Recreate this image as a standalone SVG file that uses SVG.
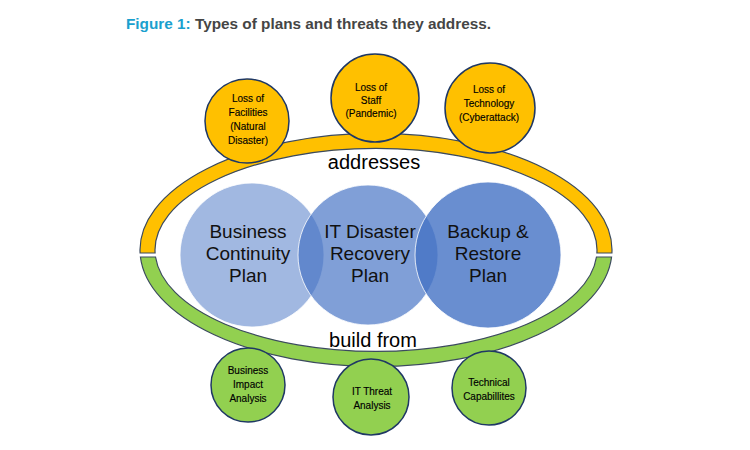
<svg xmlns="http://www.w3.org/2000/svg" width="750" height="450" viewBox="0 0 750 450">
<style>
  .title { font-family: "Liberation Sans", Arial, sans-serif; font-weight: bold; font-size: 15.5px; }
  .band { stroke: #3B4A5E; stroke-width: 1.2; }
  .orange { fill: #FFC000; }
  .green { fill: #92D050; }
  .node { stroke: #1F3864; stroke-width: 1.5; }
  .plan { fill: #4472C4; stroke: #FFFFFF; stroke-width: 1; stroke-opacity: 0.8; }
  .small { font-family: "Liberation Sans", Arial, sans-serif; font-size: 10px; fill: #000; text-anchor: middle; stroke: #000; stroke-width: 0.15; }
  .big { font-family: "Liberation Sans", Arial, sans-serif; font-size: 19px; fill: #111; text-anchor: middle; }
  .label { font-family: "Liberation Sans", Arial, sans-serif; font-size: 20px; fill: #000; text-anchor: middle; }
</style>
<rect width="750" height="450" fill="#FFFFFF"/>
<text class="title" x="126" y="29" textLength="365" lengthAdjust="spacingAndGlyphs"><tspan fill="#1AA0CE">Figure 1:</tspan><tspan fill="#454545"> Types of plans and threats they address.</tspan></text>

<g id="connectors">
  <path class="band orange" d="M140.08,253 A236,116.5 0 1 1 611.92,253 L596.9,253 A221,101.5 0 1 0 155.1,253 Z"/>
  <path class="band green" d="M140.43,257 A236,116.5 0 0 0 611.57,257 L596.47,257 A221,101.5 0 0 1 155.53,257 Z"/>
  <text class="label" x="374" y="169">addresses</text>
  <text class="label" x="373" y="347" font-size="21">build from</text>
</g>

<g id="bcp">
  <circle class="plan" cx="252" cy="255" r="72" fill-opacity="0.5"/>
</g>
<g id="itdrp">
  <circle class="plan" cx="368" cy="255" r="70" fill-opacity="0.68"/>
</g>
<g id="backup">
  <circle class="plan" cx="488" cy="255" r="73" fill-opacity="0.8"/>
</g>
<g id="plan-labels">
  <text class="big" x="248" y="238">Business</text>
  <text class="big" x="248" y="260">Continuity</text>
  <text class="big" x="248" y="282">Plan</text>
  <text class="big" x="370" y="238">IT Disaster</text>
  <text class="big" x="370" y="260">Recovery</text>
  <text class="big" x="370" y="282">Plan</text>
  <text class="big" x="488" y="238">Backup &amp;</text>
  <text class="big" x="488" y="260">Restore</text>
  <text class="big" x="488" y="282">Plan</text>
</g>

<g id="loss-facilities">
  <circle class="node orange" cx="247" cy="121" r="42"/>
  <text class="small" x="248" y="102">Loss of</text>
  <text class="small" x="248" y="116">Facilities</text>
  <text class="small" x="248" y="130">(Natural</text>
  <text class="small" x="248" y="144">Disaster)</text>
</g>
<g id="loss-staff">
  <circle class="node orange" cx="375" cy="98" r="44"/>
  <text class="small" x="371" y="91">Loss of</text>
  <text class="small" x="371" y="104">Staff</text>
  <text class="small" x="371" y="117">(Pandemic)</text>
</g>
<g id="loss-technology">
  <circle class="node orange" cx="490" cy="108" r="45"/>
  <text class="small" x="489" y="93">Loss of</text>
  <text class="small" x="489" y="107">Technology</text>
  <text class="small" x="489" y="121">(Cyberattack)</text>
</g>

<g id="bia">
  <circle class="node green" cx="248" cy="385" r="37"/>
  <text class="small" x="248" y="374">Business</text>
  <text class="small" x="248" y="388">Impact</text>
  <text class="small" x="248" y="402">Analysis</text>
</g>
<g id="it-threat">
  <circle class="node green" cx="371" cy="397" r="38"/>
  <text class="small" x="372" y="395">IT Threat</text>
  <text class="small" x="372" y="409">Analysis</text>
</g>
<g id="technical">
  <circle class="node green" cx="489" cy="388" r="37"/>
  <text class="small" x="489" y="386">Technical</text>
  <text class="small" x="489" y="400">Capabillites</text>
</g>
</svg>
